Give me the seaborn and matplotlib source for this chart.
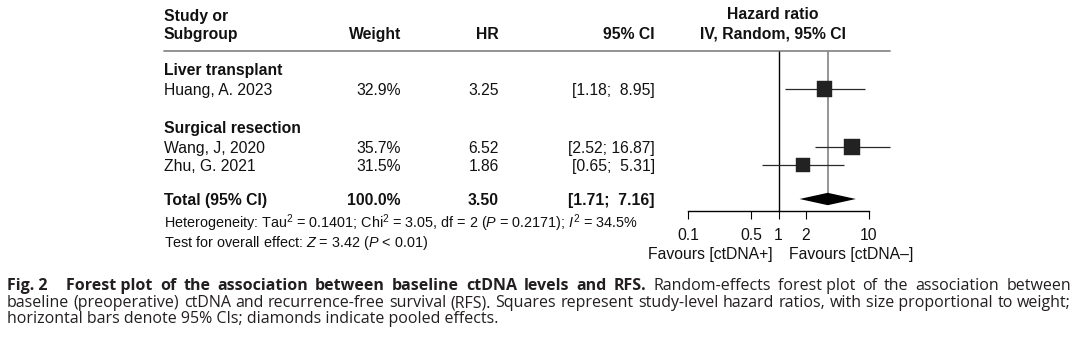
import numpy as np
import pandas as pd
import seaborn as sns
import matplotlib
matplotlib.use("Agg")
import matplotlib.pyplot as plt
from matplotlib.lines import Line2D
from matplotlib.font_manager import FontProperties

# ---------------- data ----------------
groups = ["Liver transplant", "Surgical resection"]
studies = ["Huang, A. 2023", "Wang, J, 2020", "Zhu, G. 2021"]
study_group = ["Liver transplant", "Surgical resection", "Surgical resection"]
weights = [32.9, 35.7, 31.5]
hr = [3.25, 6.52, 1.86]
ci_low = [1.18, 2.52, 0.65]
ci_high = [8.95, 16.87, 5.31]
total_weight = 100.0
total_hr = 3.50
total_low = 1.71
total_high = 7.16
heterogeneity = r"Heterogeneity: Tau$^2$ = 0.1401; Chi$^2$ = 3.05, df = 2 ($P$ = 0.2171); $I^2$ = 34.5%"
overall = r"Test for overall effect: $Z$ = 3.42 ($P$ < 0.01)"
x_ticks = [0.1, 0.5, 1, 2, 10]
x_ticklabels = ["0.1", "0.5", "1", "2", "10"]
favours_left = "Favours [ctDNA+]"
favours_right = "Favours [ctDNA\u2013]"
caption = [
    [("Fig. 2", "bold"), ("Forest plot of the association between baseline ctDNA levels and RFS.", "bold"),
     ("Random-effects forest plot of the association between", "normal")],
    [("baseline (preoperative) ctDNA and recurrence-free survival (RFS). Squares represent study-level hazard ratios, with size proportional to weight;", "normal")],
    [("horizontal bars denote 95% CIs; diamonds indicate pooled effects.", "normal")],
]

# ---------------- style ----------------
sns.set_theme(style="white")
plt.rcParams["font.family"] = ["Liberation Sans"]
plt.rcParams["mathtext.fontset"] = "custom"
plt.rcParams["mathtext.rm"] = "Liberation Sans"
plt.rcParams["mathtext.it"] = "Liberation Sans:italic"
plt.rcParams["mathtext.bf"] = "Liberation Sans:bold"

W, H, DPI = 1080, 339, 100
fig = plt.figure(figsize=(W / DPI, H / DPI), dpi=DPI)
fig.patch.set_facecolor("white")

bg = fig.add_axes([0, 0, 1, 1])
bg.set_xlim(0, W)
bg.set_ylim(H, 0)
bg.axis("off")

TXT = "#111111"
FS = 11.3
FS_SMALL = 10.4

# row baselines (pixel layout)
base = {"head1": 20.7, "head2": 39.3, "Liver transplant": 75, "Huang, A. 2023": 95,
        "Surgical resection": 132.7, "Wang, J, 2020": 152.7, "Zhu, G. 2021": 171,
        "total": 205, "het": 228.3, "test": 246.7}
CAP = 6.0  # half cap height -> centre from baseline

X_STUDY, X_WEIGHT, X_HR, X_CI, X_HRHEAD = 164, 401, 499, 655, 773

def t(x, key, s, ha="left", weight="normal", size=FS):
    bg.text(x, base[key] if isinstance(key, str) else key, s, ha=ha, va="baseline",
            fontsize=size, fontweight=weight, color=TXT)

# headers
t(X_STUDY, "head1", "Study or", weight="bold")
t(X_STUDY, "head2", "Subgroup", weight="bold")
t(X_WEIGHT, "head2", "Weight", ha="right", weight="bold")
t(X_HR, "head2", "HR", ha="right", weight="bold")
t(X_CI, "head2", "95% CI", ha="right", weight="bold")
t(X_HRHEAD, base["head1"] - 1.5, "Hazard ratio", ha="center", weight="bold")
t(X_HRHEAD, base["head2"] - 0.5, "IV, Random, 95% CI", ha="center", weight="bold")

bg.add_line(Line2D([164, 890], [51, 51], color="#8a8a8a", lw=1.3))

for g in groups:
    t(X_STUDY, g, g, weight="bold")
for s, w, h, lo, hi in zip(studies, weights, hr, ci_low, ci_high):
    t(X_STUDY, s, s)
    t(X_WEIGHT, s, f"{w:.1f}%", ha="right")
    t(X_HR, s, f"{h:.2f}", ha="right")
    sep = "; " if hi >= 10 else ";  "
    t(X_CI, s, f"[{lo:.2f}{sep}{hi:.2f}]", ha="right")

t(X_STUDY, "total", "Total (95% CI)", weight="bold")
t(X_WEIGHT, "total", f"{total_weight:.1f}%", ha="right", weight="bold")
t(X_HR, "total", f"{total_hr:.2f}", ha="right", weight="bold")
t(X_CI, "total", f"[{total_low:.2f};  {total_high:.2f}]", ha="right", weight="bold")
t(X_STUDY, "het", heterogeneity, size=FS_SMALL)
t(X_STUDY, "test", overall, size=FS_SMALL)

# ---------------- forest axes ----------------
PX_DEC = 90.5
X_ONE = 778.5
ax_l, ax_r, ax_t, ax_b = 650, 900, 40, 262
fax = fig.add_axes([ax_l / W, (H - ax_b) / H, (ax_r - ax_l) / W, (ax_b - ax_t) / H])
fax.set_facecolor("none")
fax.set_xscale("log")
fax.set_xlim(10 ** ((ax_l - X_ONE) / PX_DEC), 10 ** ((ax_r - X_ONE) / PX_DEC))
fax.set_ylim(ax_b, ax_t)

df = pd.DataFrame({"study": studies, "hr": hr, "lo": ci_low, "hi": ci_high, "w": weights})
df["y"] = [base[s] - CAP for s in studies]
y_total = base["total"] - CAP
AXIS_Y = 211

fax.vlines(1, 51, AXIS_Y, color="black", lw=1.0, zorder=1)
fax.vlines(total_hr, 51, y_total, color="#8c8c8c", lw=1.3, zorder=1)
fax.hlines(df["y"], df["lo"], df["hi"], color="#2a2a2a", lw=0.9, zorder=2)

k = 3.55
sns.scatterplot(data=df, x="hr", y="y", size="w",
                sizes=(k * min(weights), k * max(weights)),
                marker="s", color="#222222", edgecolor="#222222", linewidth=0.3,
                legend=False, ax=fax, zorder=3)

fax.fill([total_low, total_hr, total_high, total_hr],
         [y_total, y_total - 6.2, y_total, y_total + 6.2],
         color="black", lw=0, zorder=4)

for sp in ["top", "right", "left"]:
    fax.spines[sp].set_visible(False)
fax.spines["bottom"].set_position(("data", AXIS_Y))
fax.spines["bottom"].set_bounds(0.1, 10)
fax.spines["bottom"].set_color("black")
fax.spines["bottom"].set_linewidth(1.0)
fax.set_yticks([])
fax.set_xticks(x_ticks)
fax.set_xticklabels(x_ticklabels)
fax.minorticks_off()
fax.tick_params(axis="x", direction="out", length=5.8, width=0.8, color="black",
                pad=6.5, labelsize=FS, labelcolor=TXT, bottom=True)
fax.set_xlabel("")
fax.set_ylabel("")

bg.text(773, 258.5, favours_left, ha="right", va="baseline", fontsize=FS, color=TXT)
bg.text(789, 258.5, favours_right, ha="left", va="baseline", fontsize=FS, color=TXT)

# ---------------- caption (justified) ----------------
CAP_FONT = "Open Sans"
CAP_COL = "#231f20"
FIG_GAP = 19
renderer = fig.canvas.get_renderer()
cap_base = [290.5, 307.0, 323.0]
x0, x1 = 7, 1071

def width(txt, wgt, size):
    fp = FontProperties(family=CAP_FONT, weight=wgt, size=size)
    return renderer.get_text_width_height_descent(txt, fp, ismath=False)[0]

def tokens_of(segs):
    toks = []
    for txt, wgt in segs:
        if txt.startswith("Fig."):
            toks.append([txt, wgt, FIG_GAP])
            continue
        for wd in txt.split():
            if wd.startswith("p") and toks and toks[-1][1] == wgt and toks[-1][2] == 0:
                toks[-1][0] += " " + wd
            else:
                toks.append([wd, wgt, 0])
    return toks

# size chosen so that line 2 at natural spacing fills the width
ref_line = caption[1][0][0]
s_test = 10.0
nat = width(ref_line, "normal", s_test)
CAP_FS = s_test * (x1 - x0) * 0.997 / nat

for li, yb in enumerate(cap_base):
    segs = caption[li]
    if li == 2:
        bg.text(x0, yb, segs[0][0], ha="left", va="baseline", fontsize=CAP_FS,
                family=CAP_FONT, color=CAP_COL)
        continue
    size = CAP_FS
    space = width("a a", "normal", size) - width("aa", "normal", size)
    toks = tokens_of(segs)
    ws = [width(tk, wg, size) for tk, wg, _ in toks]
    n_gaps = sum(1 for tk in toks[:-1] if tk[2] == 0)
    extra = sum(tk[2] for tk in toks[:-1])
    gap = (x1 - x0 - sum(ws) - extra) / n_gaps
    if gap < 0.7 * space:
        size = size * (x1 - x0 - extra - n_gaps * space) / sum(ws)
        ws = [width(tk, wg, size) for tk, wg, _ in toks]
        gap = (x1 - x0 - sum(ws) - extra) / n_gaps
    x = x0
    for (tk, wg, ex), wpx in zip(toks, ws):
        bg.text(x, yb, tk, ha="left", va="baseline", fontsize=size,
                fontweight=wg, family=CAP_FONT, color=CAP_COL)
        x += wpx + (ex if ex else gap)

fig.savefig("out.png", dpi=DPI, facecolor="white")
